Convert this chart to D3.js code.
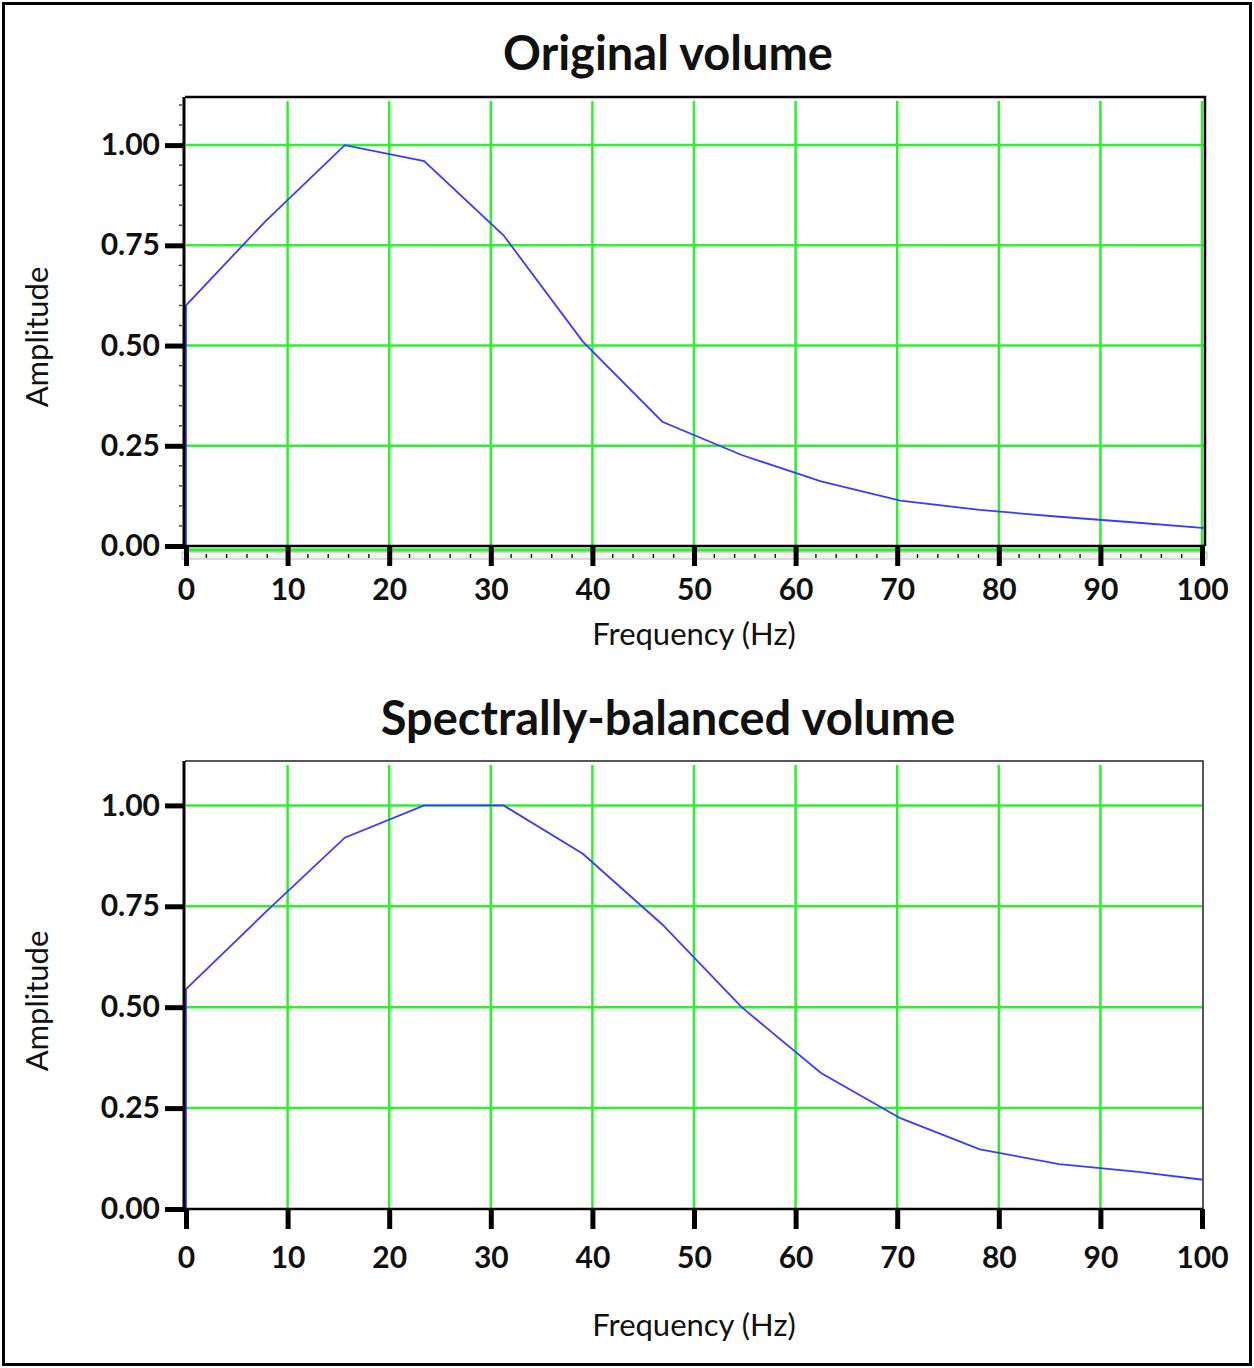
<!DOCTYPE html>
<html>
<head>
<meta charset="utf-8">
<script src="https://cdn.jsdelivr.net/npm/d3@7"></script>
<style>
  html, body { margin: 0; padding: 0; background: #fff; }
  svg text { font-family: Lato, "Open Sans", sans-serif; fill: #111; }
</style>
</head>
<body>
<div id="chart"></div>
<script>
// spectra sampled every 7.8125 Hz (first point repeated at 0 so the trace rises from zero)
const freqHz = [0, 0, 7.81, 15.63, 23.44, 31.25, 39.06, 46.88, 54.69, 62.5, 70.31, 78.13, 85.94, 93.75, 101.56];
const originalAmp = [0, 0.60, 0.81, 1.00, 0.96, 0.775, 0.51, 0.31, 0.227, 0.161, 0.113, 0.09, 0.073, 0.058, 0.042];
const balancedAmp = [0, 0.545, 0.735, 0.92, 1.00, 1.00, 0.88, 0.705, 0.50, 0.337, 0.225, 0.148, 0.111, 0.092, 0.068];

const xTicks = [0, 10, 20, 30, 40, 50, 60, 70, 80, 90, 100];
const yTicks = [0, 0.25, 0.5, 0.75, 1.0];
const titles = ['Original volume', 'Spectrally-balanced volume'];
const xLabel = 'Frequency (Hz)', yLabel = 'Amplitude';

const W = 1254, H = 1368;
const svg = d3.select('#chart').append('svg').attr('width', W).attr('height', H);

// outer frame
svg.append('rect').attr('x', 3.5).attr('y', 3.5).attr('width', W - 7).attr('height', H - 7)
   .attr('fill', 'none').attr('stroke', '#000').attr('stroke-width', 3);

const panels = [
  {title: titles[0], amp: originalAmp, top: 97, bottom: 546, ymax: 1.12, right: 1205,
   titleY: 70, xLabY: 645, yLabY: 337, ruler: true, gridAt100: true},
  {title: titles[1], amp: balancedAmp, top: 761, bottom: 1209, ymax: 1.11, right: 1203,
   titleY: 735, xLabY: 1336, yLabY: 1001, ruler: false, gridAt100: false}
];

const green = '#2ef02e', blue = '#3b3bff';

panels.forEach((p, pi) => {
  const g = svg.append('g').attr('class', 'panel');
  const x = d3.scaleLinear().domain([0, 100]).range([186, 1202]);
  const y = d3.scaleLinear().domain([0, p.ymax]).range([p.bottom, p.top]);
  const clipId = 'clip' + pi;

  g.append('clipPath').attr('id', clipId)
   .append('rect').attr('x', 185).attr('y', p.top).attr('width', p.right - 185).attr('height', p.bottom - p.top);

  // plot background + grid
  g.append('rect').attr('x', 185).attr('y', p.top).attr('width', p.right - 185).attr('height', p.bottom - p.top)
   .attr('fill', '#fff');

  const vgrid = xTicks.filter(d => d > 0 && (d < 100 || p.gridAt100));
  g.selectAll('line.vg').data(vgrid).join('line').attr('class', 'vg')
   .attr('x1', d => x(d)).attr('x2', d => x(d))
   .attr('y1', p.top + 4).attr('y2', p.bottom)
   .attr('stroke', green).attr('stroke-width', 2.5);

  g.selectAll('line.hg').data(yTicks.filter(d => d > 0)).join('line').attr('class', 'hg')
   .attr('x1', 186).attr('x2', p.right - 1)
   .attr('y1', d => y(d)).attr('y2', d => y(d))
   .attr('stroke', green).attr('stroke-width', 2.5);

  // frame top / right
  g.append('path')
   .attr('d', `M185,${p.top}H${p.right}V${p.bottom}`)
   .attr('fill', 'none').attr('stroke', pi === 0 ? '#000' : '#222').attr('stroke-width', pi === 0 ? 2.5 : 1.5);

  // trace
  const line = d3.line().x((d, i) => x(freqHz[i])).y(d => y(d));
  g.append('path').datum(p.amp)
   .attr('clip-path', `url(#${clipId})`)
   .attr('d', line)
   .attr('fill', 'none').attr('stroke', blue).attr('stroke-width', 1.8);

  // ruler under the top panel
  if (p.ruler) {
    g.append('line').attr('x1', 186).attr('x2', p.right - 2)
     .attr('y1', p.bottom + 4).attr('y2', p.bottom + 4)
     .attr('stroke', green).attr('stroke-width', 3.5);
    g.append('rect').attr('x', 182).attr('y', p.bottom + 6).attr('width', p.right - 180).attr('height', 7)
     .attr('fill', '#f4f4f4').attr('stroke', '#bbb').attr('stroke-width', 1);
    const minor = d3.range(0, 101, 2).filter(d => d % 10 !== 0);
    g.selectAll('line.mx').data(minor).join('line').attr('class', 'mx')
     .attr('x1', d => x(d)).attr('x2', d => x(d))
     .attr('y1', p.bottom + 8).attr('y2', p.bottom + 12)
     .attr('stroke', '#222').attr('stroke-width', 1.5);
    const minorY = d3.range(0.05, 1.11, 0.05).filter(d => Math.abs(d * 4 - Math.round(d * 4)) > 1e-6);
    g.selectAll('line.my').data(minorY).join('line').attr('class', 'my')
     .attr('x1', 179).attr('x2', 182)
     .attr('y1', d => y(d)).attr('y2', d => y(d))
     .attr('stroke', '#444').attr('stroke-width', 1.5);
  }

  // x axis
  const xa = g.append('g').attr('transform', `translate(0,${p.bottom})`)
    .call(d3.axisBottom(x).tickValues(xTicks).tickFormat(d3.format('d')).tickSize(20).tickPadding(10));
  xa.select('.domain').attr('stroke', '#000').attr('stroke-width', 2.5).attr('d', `M185,0H${p.right}`);
  xa.selectAll('.tick line').attr('stroke', '#000').attr('stroke-width', 5);
  xa.selectAll('.tick text').attr('font-size', 30).attr('font-weight', 700).attr('fill', '#111')
    .attr('dy', pi === 0 ? '0.8em' : '0.95em');

  // y axis
  const ya = g.append('g').attr('transform', 'translate(184,0)')
    .call(d3.axisLeft(y).tickValues(yTicks).tickFormat(d3.format('.2f')).tickSize(19).tickPadding(5));
  ya.select('.domain').attr('stroke', '#000').attr('stroke-width', 3).attr('d', `M0,${p.top}V${p.bottom}`);
  ya.selectAll('.tick line').attr('stroke', '#000').attr('stroke-width', 5);
  ya.selectAll('.tick text').attr('font-size', 30).attr('font-weight', 700).attr('fill', '#111');

  // titles and labels
  g.append('text').attr('x', 668).attr('y', p.titleY).attr('text-anchor', 'middle')
   .attr('font-size', 47).attr('font-weight', 700).text(p.title);
  g.append('text').attr('x', 694).attr('y', p.xLabY).attr('text-anchor', 'middle')
   .attr('font-size', 31).text(xLabel);
  g.append('text').attr('transform', `translate(48,${p.yLabY}) rotate(-90)`).attr('text-anchor', 'middle')
   .attr('font-size', 31).text(yLabel);
});
</script>
</body>
</html>
